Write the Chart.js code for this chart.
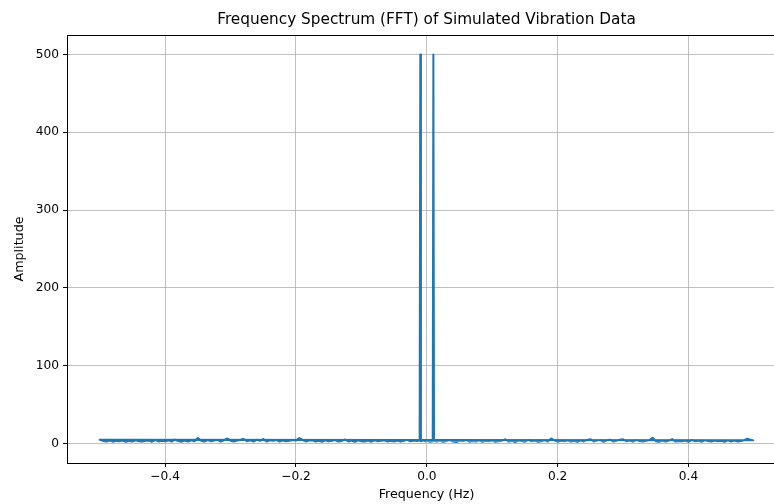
<!DOCTYPE html>
<html><head><meta charset="utf-8">
<script src="https://cdn.jsdelivr.net/npm/chart.js@4/dist/chart.umd.min.js"></script>
<style>
html,body{margin:0;padding:0;overflow:hidden;background:#fff;width:774px;height:504px}
#wrap{position:absolute;left:0;top:0;width:800px;height:504px}
</style></head><body>
<div id="wrap"><canvas id="c" width="800" height="504"></canvas></div>
<script>
// FFT bins in numpy fftfreq order: non-negative frequencies first, then negative ones
const posFreq = [0.000, 0.005, 0.009, 0.010, 0.011,
  0.015, 0.020, 0.025, 0.030, 0.035, 0.040, 0.045, 0.050, 0.055, 0.060,
  0.065, 0.070, 0.075, 0.080, 0.085, 0.090, 0.095, 0.100, 0.105, 0.110,
  0.115, 0.120, 0.125, 0.130, 0.135, 0.140, 0.145, 0.150, 0.155, 0.160,
  0.165, 0.170, 0.175, 0.180, 0.185, 0.190, 0.195, 0.200, 0.205, 0.210,
  0.215, 0.220, 0.225, 0.230, 0.235, 0.240, 0.245, 0.250, 0.255, 0.260,
  0.265, 0.270, 0.275, 0.280, 0.285, 0.290, 0.295, 0.300, 0.305, 0.310,
  0.315, 0.320, 0.325, 0.330, 0.335, 0.340, 0.345, 0.350, 0.355, 0.360,
  0.365, 0.370, 0.375, 0.380, 0.385, 0.390, 0.395, 0.400, 0.405, 0.410,
  0.415, 0.420, 0.425, 0.430, 0.435, 0.440, 0.445, 0.450, 0.455, 0.460,
  0.465, 0.470, 0.475, 0.480, 0.485, 0.490, 0.495, 0.499];
const posAmp = [3.4, 2.2, 2.9, 500.0, 3.6,
  2.5, 3.9, 2.1, 3.3, 4.2, 2.6, 2.0, 3.7, 3.1, 4.3,
  2.4, 3.2, 2.7, 4.0, 2.3, 3.5, 2.8, 3.9, 2.2, 3.1,
  3.6, 5.5, 2.5, 3.4, 2.0, 3.8, 3.3, 2.4, 4.5, 2.9,
  3.7, 2.3, 3.0, 4.2, 2.6, 6.6, 3.9, 2.4, 3.5, 2.8,
  4.0, 2.5, 3.4, 2.1, 3.9, 2.7, 4.6, 5.6, 2.6, 3.8,
  4.4, 2.3, 4.1, 4.9, 2.5, 3.6, 5.0, 5.4, 2.8, 3.9,
  2.4, 4.5, 3.2, 2.6, 3.7, 4.1, 7.5, 2.9, 2.3, 4.0,
  2.6, 3.8, 5.7, 2.5, 3.4, 2.9, 3.9, 2.2, 4.6, 3.0,
  3.7, 2.4, 4.2, 3.1, 2.5, 3.9, 2.8, 3.6, 2.2, 4.1,
  2.7, 3.8, 2.5, 3.4, 4.3, 6.4, 4.8, 4.1];
const negFreq = [
  -0.500, -0.495, -0.490, -0.485, -0.480, -0.475, -0.470, -0.465, -0.460, -0.455,
  -0.450, -0.445, -0.440, -0.435, -0.430, -0.425, -0.420, -0.415, -0.410, -0.405,
  -0.400, -0.395, -0.390, -0.385, -0.380, -0.375, -0.370, -0.365, -0.360, -0.355,
  -0.350, -0.345, -0.340, -0.335, -0.330, -0.325, -0.320, -0.315, -0.310, -0.305,
  -0.300, -0.295, -0.290, -0.285, -0.280, -0.275, -0.270, -0.265, -0.260, -0.255,
  -0.250, -0.245, -0.240, -0.235, -0.230, -0.225, -0.220, -0.215, -0.210, -0.205,
  -0.200, -0.195, -0.190, -0.185, -0.180, -0.175, -0.170, -0.165, -0.160, -0.155,
  -0.150, -0.145, -0.140, -0.135, -0.130, -0.125, -0.120, -0.115, -0.110, -0.105,
  -0.100, -0.095, -0.090, -0.085, -0.080, -0.075, -0.070, -0.065, -0.060, -0.055,
  -0.050, -0.045, -0.040, -0.035, -0.030, -0.025, -0.020, -0.015,
  -0.011, -0.010, -0.009, -0.005, -0.001];
const negAmp = [
  4.9, 3.7, 2.6, 4.0, 2.4, 3.6, 2.9, 3.9, 2.3, 3.4,
  2.6, 4.1, 3.0, 2.5, 3.5, 3.8, 2.4, 4.4, 2.7, 3.7,
  2.8, 4.0, 2.5, 4.9, 3.1, 2.4, 3.9, 2.7, 4.2, 3.0,
  7.1, 3.6, 2.5, 4.5, 2.9, 3.8, 4.7, 2.6, 4.1, 6.5,
  3.7, 2.7, 3.9, 4.6, 5.9, 2.9, 4.3, 2.5, 4.8, 3.5,
  5.7, 2.6, 4.2, 3.6, 4.5, 2.5, 4.0, 2.8, 3.7, 4.4,
  3.9, 7.0, 4.6, 2.7, 3.8, 4.3, 2.6, 3.6, 2.4, 4.1,
  2.8, 3.7, 4.5, 2.5, 3.4, 5.2, 2.7, 3.9, 2.3, 4.2,
  3.0, 2.6, 3.8, 2.4, 4.1, 2.9, 3.6, 4.3, 2.5, 3.7,
  2.7, 4.0, 2.6, 3.5, 4.7, 2.8, 3.9, 3.1,
  3.8, 500.0, 2.8, 4.1, 2.5];
const xTicks = [-0.4, -0.2, 0.0, 0.2, 0.4];
const yTicks = [0, 100, 200, 300, 400, 500];
const titleText = 'Frequency Spectrum (FFT) of Simulated Vibration Data';
const xLabel = 'Frequency (Hz)';
const yLabel = 'Amplitude';

const points = [];
posFreq.forEach((f, i) => points.push({x: f, y: posAmp[i]}));
negFreq.forEach((f, i) => points.push({x: f, y: negAmp[i]}));

const FONT = 'DejaVu Sans';
Chart.defaults.font.family = FONT;
Chart.defaults.font.size = 12.2;
Chart.defaults.color = '#000';

const fmt = v => (v < 0 ? '\u2212' : '') + Math.abs(v).toFixed(1);
const XMIN = -0.54995, XMAX = 0.54895, YMIN = -25, YMAX = 525;

new Chart(document.getElementById('c'), {
  type: 'line',
  data: { datasets: [{
    data: points, borderColor: '#1f77b4', borderWidth: 2.0,
    borderJoinStyle: 'round', borderCapStyle: 'butt',
    pointRadius: 0, tension: 0, fill: false
  }]},
  options: {
    responsive: false, animation: false, devicePixelRatio: 1,
    layout: { padding: { left: 0, right: 14, top: 0, bottom: 0 } },
    plugins: { legend: { display: false }, tooltip: { enabled: false }, title: { display: false } },
    scales: {
      x: {
        type: 'linear', position: 'bottom', min: XMIN, max: XMAX,
        afterBuildTicks: s => { s.ticks = xTicks.map(v => ({ value: v })); },
        afterFit: s => { s.height = 41; },
        ticks: { callback: v => fmt(v), padding: 3, maxRotation: 0, autoSkip: false, font: { size: 12.2 } },
        grid: { color: '#b0b0b0', lineWidth: 0.8, tickColor: '#000', tickLength: 4, tickWidth: 1 },
        border: { display: true, color: '#000', width: 1 },
        title: { display: true, text: xLabel, font: { size: 12.7 }, padding: { top: 0, bottom: 1.4 } }
      },
      xTop: {
        type: 'linear', position: 'top', min: XMIN, max: XMAX,
        afterFit: s => { s.height = 35; },
        ticks: { display: false },
        grid: { display: false, drawTicks: false },
        border: { display: true, color: '#000', width: 1 },
        title: { display: true, text: titleText, font: { size: 15.3 }, padding: { top: 10.8, bottom: 0 } }
      },
      y: {
        type: 'linear', position: 'left', min: YMIN, max: YMAX,
        afterBuildTicks: s => { s.ticks = yTicks.map(v => ({ value: v })); },
        afterFit: s => { s.width = 67; },
        ticks: { callback: v => String(v), padding: 4, font: { size: 12.2 } },
        grid: { color: '#b0b0b0', lineWidth: 0.8, tickColor: '#000', tickLength: 4, tickWidth: 1 },
        border: { display: true, color: '#000', width: 1 },
        title: { display: true, text: yLabel, font: { size: 12.7 }, padding: { top: 12.4, bottom: 0 } }
      }
    }
  }
});
</script>
</body></html>
